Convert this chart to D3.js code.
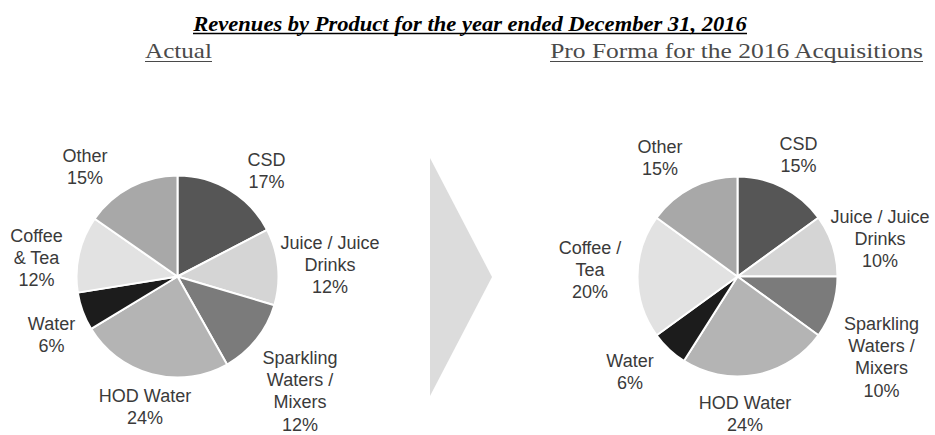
<!DOCTYPE html>
<html>
<head>
<meta charset="utf-8">
<script src="https://cdnjs.cloudflare.com/ajax/libs/d3/7.8.5/d3.min.js"></script>
<style>
    body { margin: 0; background: #ffffff; }
    svg { display: block; }
    .sliceLabel { font-family: "Liberation Sans", Arial, sans-serif; font-size: 18px; fill: #3a3a3a; }
    .head { font-family: "Liberation Serif", "Times New Roman", serif; }
</style>
</head>
<body>
<div id="chart"></div>
<script>

// --- data ---
var categories = [
    "CSD",
    "Juice / Juice Drinks",
    "Sparkling Waters / Mixers",
    "HOD Water",
    "Water",
    "Coffee & Tea",
    "Other"
];

var actualValues = [17, 12, 12, 24, 6, 12, 15];
var proFormaValues = [15, 10, 10, 24, 6, 20, 15];

// label text as printed, broken into lines
var actualLabels = [
    ["CSD"],
    ["Juice / Juice", "Drinks"],
    ["Sparkling", "Waters /", "Mixers"],
    ["HOD Water"],
    ["Water"],
    ["Coffee", "& Tea"],
    ["Other"]
];

var proFormaLabels = [
    ["CSD"],
    ["Juice / Juice", "Drinks"],
    ["Sparkling", "Waters /", "Mixers"],
    ["HOD Water"],
    ["Water"],
    ["Coffee /", "Tea"],
    ["Other"]
];

var chartTitle = "Revenues by Product for the year ended December 31, 2016";
var actualTitle = "Actual";
var proFormaTitle = "Pro Forma for the 2016 Acquisitions";

// --- styling / layout ---
var W = 935, H = 435;
var sliceColors = ["#565656", "#d5d5d5", "#7b7b7b", "#b4b4b4", "#1c1c1c", "#e2e2e2", "#a8a8a8"];
var lineHeight = 22.3;

// label block centre, offset from the pie centre
var actualLabelOffsets = [
    [89, -106], [152.5, -12], [122.5, 114.5], [-32.5, 130], [-126, 58.5], [-141, -19], [-92.5, -110]
];
var proFormaLabelOffsets = [
    [61, -122], [142.5, -38], [144, 80.5], [7.5, 137.5], [-107.5, 95], [-147.5, -7], [-77.5, -118.5]
];

var pies = [
    { values: actualValues, labels: actualLabels, offsets: actualLabelOffsets, cx: 177.5, cy: 276.5, r: 101 },
    { values: proFormaValues, labels: proFormaLabels, offsets: proFormaLabelOffsets, cx: 737.5, cy: 276.5, r: 100 }
];

var svg = d3.select("#chart").append("svg")
    .attr("width", W)
    .attr("height", H);

initHeadings();
initArrow();
pies.forEach(function(p) { drawPie(p); });

// draws a text at natural size, then stretches it sideways to a target width
function stretchedText(str, cx, baseline, size, width, opts) {
    var g = svg.append("g");
    var t = g.append("text")
        .attr("class", "head")
        .attr("text-anchor", "middle")
        .attr("font-size", size)
        .attr("font-weight", opts.bold ? "bold" : "normal")
        .attr("font-style", opts.italic ? "italic" : "normal")
        .attr("fill", opts.color)
        .text(str);
    var natural = t.node().getComputedTextLength();
    var sx = width / natural;
    t.attr("transform", "translate(" + cx + "," + baseline + ") scale(" + sx + ",1)");
    g.append("line")
        .attr("x1", cx - width / 2).attr("x2", cx + width / 2)
        .attr("y1", baseline + opts.ul).attr("y2", baseline + opts.ul)
        .attr("stroke", opts.color)
        .attr("stroke-width", opts.ulw);
}

function initHeadings() {
    stretchedText(chartTitle, 470, 31, 22, 554, { bold: true, italic: true, color: "#000", ul: 2.5, ulw: 1.6 });
    stretchedText(actualTitle, 178.5, 58, 21, 67, { color: "#4a4a4a", ul: 3.5, ulw: 1.2 });
    stretchedText(proFormaTitle, 736.5, 58, 21, 373, { color: "#4a4a4a", ul: 3.5, ulw: 1.2 });
}

function initArrow() {
    // big pale chevron between the two pies
    var ax = 430, tipX = 492, top = 158, bottom = 396;
    svg.append("path")
        .attr("d", d3.line()([[ax, top], [tipX, (top + bottom) / 2], [ax, bottom]]) + "Z")
        .attr("fill", "#dcdcdc");
}

function drawPie(p) {
    var data = p.values.map(function(v, i) {
        return { name: categories[i], value: v, idx: i };
    });

    var pie = d3.pie()
        .sort(null)
        .value(function(d) { return d.value; });

    var arc = d3.arc()
        .innerRadius(0)
        .outerRadius(p.r);

    var g = svg.append("g")
        .attr("transform", "translate(" + p.cx + "," + p.cy + ")");

    g.selectAll("path")
        .data(pie(data))
        .enter()
        .append("path")
        .attr("d", arc)
        .attr("fill", function(d) { return sliceColors[d.data.idx]; })
        .attr("stroke", "#fff")
        .attr("stroke-width", 2)
        .attr("stroke-linejoin", "round");

    var labels = g.selectAll("text.sliceLabel")
        .data(data)
        .enter()
        .append("text")
        .attr("class", "sliceLabel")
        .attr("text-anchor", "middle")
        .attr("transform", function(d) {
            var o = p.offsets[d.idx];
            return "translate(" + o[0] + "," + o[1] + ")";
        });

    labels.each(function(d) {
        var lines = p.labels[d.idx].concat([d.value + "%"]);
        var y0 = -(lines.length - 1) * lineHeight / 2;
        var el = d3.select(this);
        lines.forEach(function(line, k) {
            el.append("tspan")
                .attr("x", 0)
                .attr("y", y0 + k * lineHeight)
                .attr("dy", "0.35em")
                .text(line);
        });
    });
}

</script>
</body>
</html>
